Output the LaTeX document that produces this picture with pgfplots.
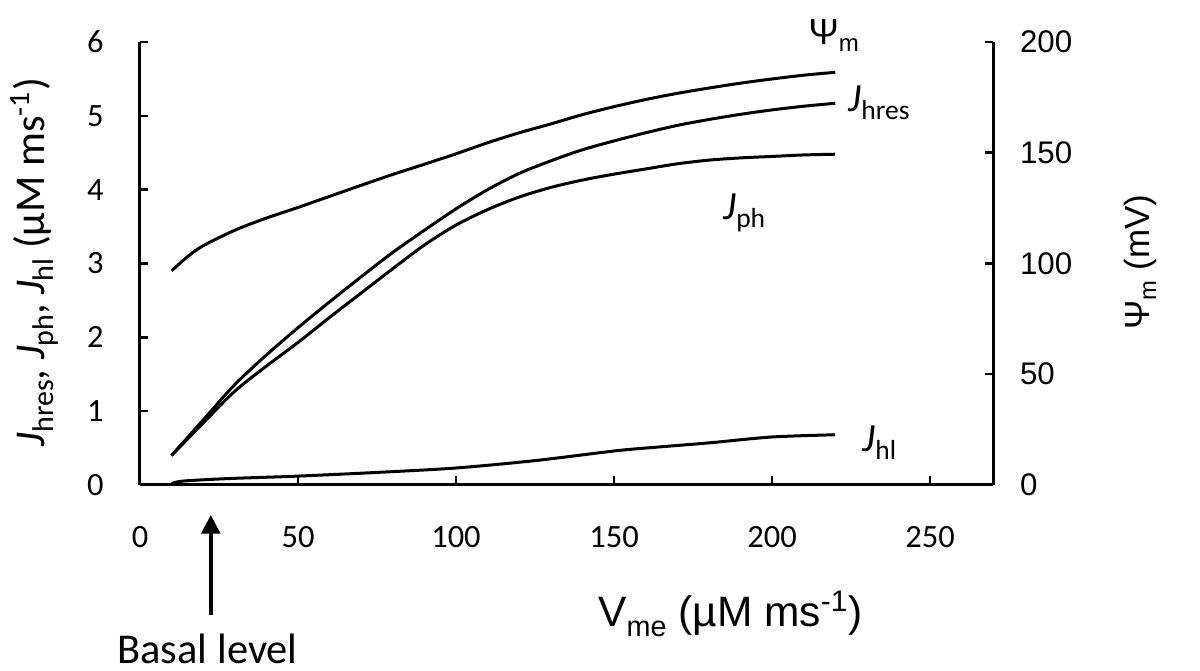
\documentclass[border=0pt]{standalone}
\usepackage{pgfplots}
\pgfplotsset{compat=1.18}
\usepackage{fontspec}
\setmainfont{Carlito}
\newfontfamily\arial{Liberation Sans}
\usetikzlibrary{arrows.meta}

% J with a lowered, smaller subscript
\newcommand{\Jl}[3]{\fontsize{#1}{#1}\selectfont\textit{J}\raisebox{-0.2em}{\fontsize{#2}{#2}\selectfont #3}}

\begin{document}
\begin{tikzpicture}
\begin{axis}[
    name=main,
    scale only axis,
    width=341.3pt, height=177.2pt,
    xmin=0, xmax=270,
    ymin=0, ymax=6,
    axis x line*=bottom,
    axis y line*=left,
    axis line style={line width=1.2pt},
    tick align=inside,
    major tick length=3.4pt,
    tick style={line width=1pt, black},
    xtick={0,50,...,250},
    ytick={0,1,...,6},
    /pgf/number format/assume math mode=true,
    xticklabel style={font=\fontsize{13}{13}\selectfont, anchor=north, yshift=-13pt},
    yticklabel style={font=\fontsize{13}{13}\selectfont, anchor=east},
    yticklabel={\pgfmathprintnumber{\tick}\hspace*{11pt}},
    clip=false,
]
% J_hres
\addplot[black, line width=1.2pt, smooth] coordinates {
  (10,0.40) (20,0.88) (30,1.36) (40,1.76) (50,2.13) (60,2.48) (70,2.82)
  (80,3.15) (90,3.45) (100,3.74) (110,4.00) (120,4.22) (130,4.39) (140,4.54)
  (150,4.66) (160,4.77) (170,4.87) (180,4.95) (190,5.02) (200,5.08) (210,5.13) (220,5.17)
};
% J_ph
\addplot[black, line width=1.2pt, smooth] coordinates {
  (10,0.40) (20,0.84) (30,1.27) (40,1.61) (50,1.93) (60,2.27) (70,2.60)
  (80,2.93) (90,3.25) (100,3.52) (110,3.73) (120,3.90) (130,4.03) (140,4.13)
  (150,4.21) (160,4.28) (170,4.35) (180,4.40) (190,4.43) (200,4.45) (210,4.47) (220,4.48)
};
% J_hl
\addplot[black, line width=1.2pt, smooth] coordinates {
  (10,0.02) (13,0.05) (20,0.07) (30,0.09) (50,0.12) (75,0.17) (100,0.23)
  (125,0.33) (150,0.46) (160,0.50) (180,0.57) (200,0.65) (220,0.68)
};

\coordinate (bl) at (axis cs:-44.30,-2.519);
\coordinate (tr) at (axis cs:335.44,6.569);

\node[anchor=base west, inner sep=0pt] at (axis cs:211.4,5.96)
  {\arial\fontsize{14.5}{14.5}\selectfont Ψ\raisebox{-2.8pt}{\fontsize{9.6}{9.6}\selectfont m}};
\node[anchor=base west, inner sep=0pt] at (axis cs:224.1,5.052) {\Jl{16}{11}{hres}};
\node[anchor=base west, inner sep=0pt] at (axis cs:184.5,3.589) {\Jl{16}{11}{ph}};
\node[anchor=base west, inner sep=0pt] at (axis cs:228.5,0.447) {\Jl{16}{11}{hl}};

\node[rotate=90, inner sep=0pt] at (axis cs:-33.5,3.02)
  {\Jl{17}{12}{hres}, \Jl{17}{12}{ph}, \Jl{17}{12}{hl} (µM ms\textsuperscript{-1})};
\node[rotate=90, inner sep=0pt] at (axis cs:316.5,3.02)
  {\arial\fontsize{14}{14}\selectfont Ψ\raisebox{-0.2em}{\fontsize{9.5}{9.5}\selectfont m} (mV)};

\node[anchor=base west, inner sep=0pt] at (axis cs:144.9,-1.923)
  {\arial\fontsize{17}{17}\selectfont V\raisebox{-0.22em}{\fontsize{11.5}{11.5}\selectfont me} (µM ms\textsuperscript{-1})};

\draw[line width=1.4pt, -{Triangle[length=7.5pt,width=7.5pt]}]
  (axis cs:22.4,-1.761) -- (axis cs:22.4,-0.406);
\node[anchor=base, inner sep=0pt] at (axis cs:21.4,-2.42)
  {\fontsize{17}{17}\selectfont Basal level};
\end{axis}

\begin{axis}[
    scale only axis,
    width=341.3pt, height=177.2pt,
    xmin=0, xmax=270,
    ymin=0, ymax=200,
    axis x line=none,
    axis y line*=right,
    axis line style={line width=1.2pt},
    tick align=inside,
    major tick length=3.4pt,
    tick style={line width=1pt, black},
    ytick={0,50,...,200},
    /pgf/number format/assume math mode=true,
    yticklabel style={font=\arial\fontsize{12.5}{12.5}\selectfont, xshift=7.2pt},
]
% Psi_m (mV)
\addplot[black, line width=1.2pt, smooth] coordinates {
  (10,96.7) (15,103) (20,108) (30,115) (40,120.5) (50,125.3) (60,130.3)
  (70,135.3) (80,140.2) (90,144.8) (100,149.5) (110,154.5) (120,159) (130,163)
  (140,167.2) (150,170.8) (160,174) (170,176.8) (180,179.2) (190,181.4)
  (200,183.3) (210,185) (220,186.3)
};
\end{axis}

\pgfresetboundingbox
\path[use as bounding box] (bl) rectangle (tr);
\end{tikzpicture}
\end{document}
